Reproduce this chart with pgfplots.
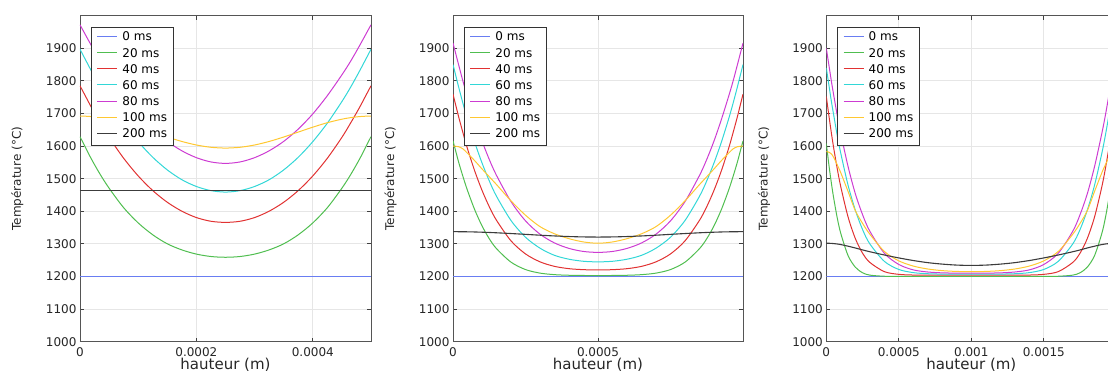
\documentclass[border=0pt]{standalone}
\usepackage{fontspec}
\setmainfont{DejaVu Sans}
\usepackage{pgfplots}
\usepackage{pgfplotstable}
\pgfplotsset{compat=1.18}

\definecolor{c0}{RGB}{105,125,242}
\definecolor{c20}{RGB}{80,190,80}
\definecolor{c40}{RGB}{225,50,50}
\definecolor{c60}{RGB}{50,215,215}
\definecolor{c80}{RGB}{205,60,210}
\definecolor{c100}{RGB}{255,200,50}
\definecolor{c200}{RGB}{60,60,60}
\definecolor{gridc}{RGB}{230,230,230}
\definecolor{framec}{RGB}{85,85,85}

% Panel 1 : hauteur 0.5 mm
\pgfplotstableread{
x        t0   t20    t40    t60    t80    t100   t200
0        1200 1629.0 1785.0 1897.0 1972.0 1692.0 1463
0.00001  1200 1593.7 1751.2 1863.0 1939.3 1691.6 1463
0.00002  1200 1559.0 1717.6 1829.1 1907.0 1690.5 1463
0.000035 1200 1512.3 1670.9 1780.8 1860.4 1687.3 1463
0.00005  1200 1470.9 1626.8 1736.7 1818.6 1682.6 1463
0.000075 1200 1411.1 1562.8 1670.5 1754.8 1671.8 1463
0.0001   1200 1364.4 1508.5 1613.7 1698.8 1658.1 1463
0.000125 1200 1327.9 1463.6 1565.8 1652.2 1643.0 1463
0.00015  1200 1300.3 1427.7 1526.9 1614.5 1627.9 1463
0.000175 1200 1281.6 1400.3 1496.9 1585.6 1614.2 1463
0.0002   1200 1268.7 1380.8 1476.1 1564.5 1603.4 1463
0.000225 1200 1261.3 1369.4 1463.4 1551.4 1596.4 1463
0.00025  1200 1259.0 1366.0 1459.0 1547.0 1594.0 1463
0.000275 1200 1261.3 1369.4 1463.4 1551.4 1596.4 1463
0.0003   1200 1268.7 1380.8 1476.1 1564.5 1603.4 1463
0.000325 1200 1281.6 1400.3 1496.9 1585.6 1614.2 1463
0.00035  1200 1300.3 1427.7 1526.9 1614.5 1627.9 1463
0.000375 1200 1327.9 1463.6 1565.8 1652.2 1643.0 1463
0.0004   1200 1364.4 1508.5 1613.7 1698.8 1658.1 1463
0.000425 1200 1411.1 1562.8 1670.5 1754.8 1671.8 1463
0.00045  1200 1470.9 1626.8 1736.7 1818.6 1682.6 1463
0.000465 1200 1512.3 1670.9 1780.8 1860.4 1687.3 1463
0.00048  1200 1559.0 1717.6 1829.1 1907.0 1690.5 1463
0.00049  1200 1593.7 1751.2 1863.0 1939.3 1691.6 1463
0.0005   1200 1629.0 1785.0 1897.0 1972.0 1692.0 1463
}\tA

% Panel 2 : hauteur 1 mm
\pgfplotstableread{
x        t0   t20    t40    t60    t80    t100   t200
0        1200 1616.0 1759.0 1850.0 1916.0 1600.0 1337.5
0.00001  1200 1582.4 1723.5 1814.7 1881.6 1599.5 1337.5
0.00002  1200 1549.1 1688.0 1779.3 1847.2 1598.0 1337.4
0.000035 1200 1504.7 1638.7 1728.8 1796.9 1591.0 1337.3
0.00005  1200 1463.8 1591.8 1682.1 1751.4 1578.0 1337.1
0.000075 1200 1404.5 1523.3 1611.1 1680.4 1555.0 1336.6
0.0001   1200 1355.4 1464.4 1548.4 1615.7 1530.0 1335.9
0.000125 1200 1316.0 1414.2 1493.5 1559.2 1506.0 1335.1
0.00015  1200 1285.5 1372.4 1446.1 1510.1 1482.0 1334.1
0.0002   1200 1244.0 1309.3 1371.8 1429.8 1432.0 1331.8
0.00025  1200 1221.3 1269.3 1320.5 1370.7 1388.0 1329.3
0.0003   1200 1210.4 1245.0 1286.9 1329.9 1353.0 1326.7
0.00035  1200 1205.7 1231.1 1264.9 1302.9 1331.0 1324.4
0.0004   1200 1203.8 1224.0 1253.0 1286.2 1316.0 1322.6
0.00045  1200 1203.1 1221.0 1246.7 1276.8 1306.0 1321.4
0.0005   1200 1203.0 1220.0 1244.9 1274.0 1302.0 1321.0
0.00055  1200 1203.1 1221.0 1246.7 1276.8 1306.0 1321.4
0.0006   1200 1203.8 1224.0 1253.0 1286.2 1316.0 1322.6
0.00065  1200 1205.7 1231.1 1264.9 1302.9 1331.0 1324.4
0.0007   1200 1210.4 1245.0 1286.9 1329.9 1353.0 1326.7
0.00075  1200 1221.3 1269.3 1320.5 1370.7 1388.0 1329.3
0.0008   1200 1244.0 1309.3 1371.8 1429.8 1432.0 1331.8
0.00085  1200 1285.5 1372.4 1446.1 1510.1 1482.0 1334.1
0.000875 1200 1316.0 1414.2 1493.5 1559.2 1506.0 1335.1
0.0009   1200 1355.4 1464.4 1548.4 1615.7 1530.0 1335.9
0.000925 1200 1404.5 1523.3 1611.1 1680.4 1555.0 1336.6
0.00095  1200 1463.8 1591.8 1682.1 1751.4 1578.0 1337.1
0.000965 1200 1504.7 1638.7 1728.8 1796.9 1591.0 1337.3
0.00098  1200 1549.1 1688.0 1779.3 1847.2 1598.0 1337.4
0.00099  1200 1582.4 1723.5 1814.7 1881.6 1599.5 1337.5
0.001    1200 1616.0 1759.0 1850.0 1916.0 1600.0 1337.5
}\tB

% Panel 3 : hauteur 2 mm
\pgfplotstableread{
x        t0   t20    t40    t60    t80    t100   t200
0        1200 1608.0 1752.0 1840.0 1900.0 1583.0 1302.0
0.00001  1200 1571.2 1719.3 1810.6 1871.2 1582.5 1302.0
0.00002  1200 1535.0 1686.5 1781.1 1842.3 1581.0 1301.9
0.000035 1200 1486.3 1640.1 1737.1 1799.0 1576.0 1301.6
0.00005  1200 1443.1 1596.8 1697.8 1759.1 1566.0 1301.0
0.000075 1200 1380.7 1531.8 1634.0 1695.5 1543.0 1299.8
0.0001   1200 1331.9 1474.9 1577.6 1638.6 1518.0 1298.0
0.00015  1200 1264.2 1382.8 1480.1 1537.4 1461.0 1293.0
0.0002   1200 1228.7 1316.7 1403.7 1454.1 1402.0 1287.5
0.00025  1200 1211.5 1271.5 1344.1 1389.8 1363.0 1281.5
0.0003   1200 1204.2 1243.3 1300.2 1339.0 1330.0 1276.0
0.0004   1200 1200.8 1215.0 1246.6 1271.5 1277.0 1266.0
0.0005   1200 1200.5 1206.6 1221.6 1236.9 1248.0 1257.0
0.0006   1200 1200.5 1204.5 1211.9 1220.3 1232.0 1249.0
0.0007   1200 1200.5 1204.0 1208.5 1213.8 1223.0 1242.5
0.0008   1200 1200.5 1204.0 1207.4 1211.2 1218.0 1238.0
0.0009   1200 1200.5 1204.0 1207.1 1210.4 1215.5 1235.0
0.001    1200 1200.5 1204.0 1207.0 1210.1 1215.0 1234.0
0.0011   1200 1200.5 1204.0 1207.1 1210.4 1215.5 1235.0
0.0012   1200 1200.5 1204.0 1207.4 1211.2 1218.0 1238.0
0.0013   1200 1200.5 1204.0 1208.5 1213.8 1223.0 1242.5
0.0014   1200 1200.5 1204.5 1211.9 1220.3 1232.0 1249.0
0.0015   1200 1200.5 1206.6 1221.6 1236.9 1248.0 1257.0
0.0016   1200 1200.8 1215.0 1246.6 1271.5 1277.0 1266.0
0.0017   1200 1204.2 1243.3 1300.2 1339.0 1330.0 1276.0
0.00175  1200 1211.5 1271.5 1344.1 1389.8 1363.0 1281.5
0.0018   1200 1228.7 1316.7 1403.7 1454.1 1402.0 1287.5
0.00185  1200 1264.2 1382.8 1480.1 1537.4 1461.0 1293.0
0.0019   1200 1331.9 1474.9 1577.6 1638.6 1518.0 1298.0
0.001925 1200 1380.7 1531.8 1634.0 1695.5 1543.0 1299.8
0.00195  1200 1443.1 1596.8 1697.8 1759.1 1566.0 1301.0
0.001965 1200 1486.3 1640.1 1737.1 1799.0 1576.0 1301.6
0.00198  1200 1535.0 1686.5 1781.1 1842.3 1581.0 1301.9
0.00199  1200 1571.2 1719.3 1810.6 1871.2 1582.5 1302.0
0.002    1200 1608.0 1752.0 1840.0 1900.0 1583.0 1302.0
}\tC

\pgfplotsset{
  panel/.style={
    scale only axis, height=326pt, anchor=south west,
    ymin=1000, ymax=2000,
    ytick={1000,1100,1200,1300,1400,1500,1600,1700,1800,1900},
    yticklabels={1000,1100,1200,1300,1400,1500,1600,1700,1800,1900},
    grid=major, major grid style={gridc, line width=0.9pt},
    axis line style={framec, line width=0.9pt},
    tick style={black!75, line width=0.9pt},
    tick align=inside, major tick length=4pt,
    tick label style={font=\fontsize{12}{14}\selectfont, text=black!85},
    xticklabel style={anchor=base, yshift=-15pt},
    yticklabel style={inner sep=0pt, xshift=-3.3pt},
    xlabel={hauteur (m)},
    xlabel style={at={(axis description cs:0.5,0)}, anchor=base, inner sep=0pt,
      yshift=-27.8pt, font=\fontsize{15}{18}\selectfont, text=black!85},
    ylabel={Température (°C)},
    ylabel style={at={(axis description cs:-0.215,0.5)}, anchor=center,
      font=\fontsize{12}{14}\selectfont, text=black!85},
    legend style={at={(axis description cs:0,1)}, anchor=north west,
      xshift=10.5pt, yshift=-11pt, draw=black!80, fill=white,
      inner xsep=6pt, inner ysep=5pt, row sep=4.1pt, column sep=4.3pt,
      font=\fontsize{12}{14}\selectfont,
      nodes={inner sep=0pt, text height=9pt, text depth=3pt},
      cells={anchor=west}},
    legend image code/.code={%
      \draw[##1] (0pt,1.3pt) -- (20pt,1.3pt);},
  },
}

\begin{document}
\begin{tikzpicture}
\begin{axis}[panel, at={(80pt,34.3pt)}, width=291pt,
  xmin=0, xmax=0.0005, xtick={0,0.0002,0.0004}, xticklabels={0,0.0002,0.0004}]
\addplot[color=c0, line width=1.4pt] table[x=x,y=t0] {\tA};
\addplot[color=c20, line width=1pt, smooth] table[x=x,y=t20] {\tA};
\addplot[color=c40, line width=1pt, smooth] table[x=x,y=t40] {\tA};
\addplot[color=c60, line width=1pt, smooth] table[x=x,y=t60] {\tA};
\addplot[color=c80, line width=1pt, smooth] table[x=x,y=t80] {\tA};
\addplot[color=c100, line width=1pt, smooth] table[x=x,y=t100] {\tA};
\addplot[color=c200, line width=1.1pt] table[x=x,y=t200] {\tA};
\legend{0 ms,20 ms,40 ms,60 ms,80 ms,100 ms,200 ms}
\end{axis}
\begin{axis}[panel, at={(453pt,34.3pt)}, width=290pt,
  xmin=0, xmax=0.001, xtick={0,0.0005}, xticklabels={0,0.0005}]
\addplot[color=c0, line width=1.4pt] table[x=x,y=t0] {\tB};
\addplot[color=c20, line width=1pt, smooth] table[x=x,y=t20] {\tB};
\addplot[color=c40, line width=1pt, smooth] table[x=x,y=t40] {\tB};
\addplot[color=c60, line width=1pt, smooth] table[x=x,y=t60] {\tB};
\addplot[color=c80, line width=1pt, smooth] table[x=x,y=t80] {\tB};
\addplot[color=c100, line width=1pt, smooth] table[x=x,y=t100] {\tB};
\addplot[color=c200, line width=1.1pt, smooth] table[x=x,y=t200] {\tB};
\legend{0 ms,20 ms,40 ms,60 ms,80 ms,100 ms,200 ms}
\end{axis}
\begin{axis}[panel, at={(826.3pt,34.3pt)}, width=290pt,
  xmin=0, xmax=0.002, xtick={0,0.0005,0.001,0.0015}, xticklabels={0,0.0005,0.001,0.0015}]
\addplot[color=c0, line width=1.4pt] table[x=x,y=t0] {\tC};
\addplot[color=c20, line width=1pt, smooth] table[x=x,y=t20] {\tC};
\addplot[color=c40, line width=1pt, smooth] table[x=x,y=t40] {\tC};
\addplot[color=c60, line width=1pt, smooth] table[x=x,y=t60] {\tC};
\addplot[color=c80, line width=1pt, smooth] table[x=x,y=t80] {\tC};
\addplot[color=c100, line width=1pt, smooth] table[x=x,y=t100] {\tC};
\addplot[color=c200, line width=1.1pt, smooth] table[x=x,y=t200] {\tC};
\legend{0 ms,20 ms,40 ms,60 ms,80 ms,100 ms,200 ms}
\end{axis}
\pgfresetboundingbox
\useasboundingbox (0pt,0pt) rectangle (1108pt,376pt);
\end{tikzpicture}
\end{document}
